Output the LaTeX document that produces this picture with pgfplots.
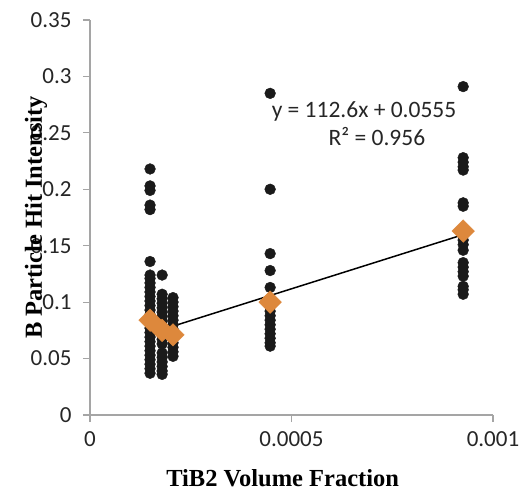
\documentclass[border=0pt]{standalone}
\usepackage{pgfplots}
\pgfplotsset{compat=1.18}
\usepackage{fontspec}
\setmainfont{Carlito}
\newfontfamily\labelfont{Liberation Serif}
\definecolor{dotc}{RGB}{26,26,26}
\definecolor{meanc}{RGB}{221,136,60}
\definecolor{axc}{RGB}{165,165,165}
\definecolor{txtc}{RGB}{38,38,38}
\begin{document}
\begin{tikzpicture}
\begin{axis}[
  at={(0,0)}, anchor=south west,
  scale only axis, width=403bp, height=395bp,
  xmin=0, xmax=0.001, ymin=0, ymax=0.35,
  axis x line*=bottom, axis y line*=left,
  axis line style={axc, line width=1.2bp},
  tick align=outside, major tick length=7bp,
  tick style={axc, line width=1.2bp},
  scaled x ticks=false, scaled y ticks=false,
  xtick={0,0.0005,0.001}, xticklabels={0,0.0005,0.001},
  ytick={0,0.05,0.1,0.15,0.2,0.25,0.3,0.35},
  yticklabels={0,0.05,0.1,0.15,0.2,0.25,0.3,0.35},
  /pgf/number format/assume math mode=true,
  tick label style={font=\fontsize{23bp}{27bp}\selectfont, text=txtc},
  yticklabel style={xshift=-8bp},
  xticklabel style={yshift=-6bp},
  xlabel={TiB2 Volume Fraction},
  ylabel={B Particle Hit Intensity},
  xlabel style={font=\labelfont\bfseries\fontsize{24.5bp}{28bp}\selectfont, at={(axis description cs:0.478,-0.16)}, anchor=center},
  ylabel style={font=\labelfont\bfseries\fontsize{24.5bp}{28bp}\selectfont, at={(axis description cs:-0.134,0.5)}, anchor=center},
  clip=false,
]
% individual measurements
\addplot[only marks, mark=*, mark size=5.4bp, draw=dotc, fill=dotc] coordinates {
(0.000149,0.218) (0.000149,0.203) (0.000149,0.199) (0.000149,0.186) (0.000149,0.182)
(0.000149,0.136) (0.000149,0.124) (0.000149,0.121) (0.000149,0.117) (0.000149,0.113)
(0.000149,0.109) (0.000149,0.105) (0.000149,0.101) (0.000149,0.097) (0.000149,0.093)
(0.000149,0.089) (0.000149,0.085) (0.000149,0.081) (0.000149,0.077) (0.000149,0.073)
(0.000149,0.069) (0.000149,0.065) (0.000149,0.061) (0.000149,0.057) (0.000149,0.053)
(0.000149,0.049) (0.000149,0.045) (0.000149,0.041) (0.000149,0.037)
(0.000179,0.124) (0.000179,0.107) (0.000179,0.103) (0.000179,0.099) (0.000179,0.095)
(0.000179,0.091) (0.000179,0.087) (0.000179,0.083) (0.000179,0.079) (0.000179,0.075)
(0.000179,0.071) (0.000179,0.067) (0.000179,0.063) (0.000179,0.055) (0.000179,0.051)
(0.000179,0.047) (0.000179,0.043) (0.000179,0.039) (0.000179,0.036)
(0.000206,0.104) (0.000206,0.100) (0.000206,0.096) (0.000206,0.092) (0.000206,0.088)
(0.000206,0.084) (0.000206,0.080) (0.000206,0.076) (0.000206,0.072) (0.000206,0.068)
(0.000206,0.064) (0.000206,0.060) (0.000206,0.056) (0.000206,0.052)
(0.000447,0.285) (0.000447,0.200) (0.000447,0.143) (0.000447,0.128) (0.000447,0.113)
(0.000447,0.100) (0.000447,0.096) (0.000447,0.092) (0.000447,0.088) (0.000447,0.084)
(0.000447,0.080) (0.000447,0.076) (0.000447,0.072) (0.000447,0.068) (0.000447,0.064)
(0.000447,0.061)
(0.000926,0.291) (0.000926,0.228) (0.000926,0.224) (0.000926,0.220) (0.000926,0.217)
(0.000926,0.188) (0.000926,0.185) (0.000926,0.163) (0.000926,0.159) (0.000926,0.155)
(0.000926,0.151) (0.000926,0.146) (0.000926,0.135) (0.000926,0.131) (0.000926,0.127)
(0.000926,0.123) (0.000926,0.114) (0.000926,0.111) (0.000926,0.107)
};
% means
\addplot[only marks, mark=square*, mark size=8bp, mark options={rotate=45, draw=meanc, fill=meanc}] coordinates {
(0.000149,0.084) (0.000179,0.075) (0.000206,0.071) (0.000447,0.100) (0.000926,0.163)
};
% linear trend line y = 112.6x + 0.0555
\addplot[black, line width=1.5bp] coordinates {(0.000149,0.0723) (0.000926,0.1598)};
\node[anchor=base, font=\fontsize{23.5bp}{27bp}\selectfont, text=txtc] at (axis cs:0.00068,0.264) {y = 112.6x + 0.0555};
\node[anchor=base, font=\fontsize{23.5bp}{27bp}\selectfont, text=txtc] at (axis cs:0.000712,0.239) {R² = 0.956};
\end{axis}
\pgfresetboundingbox
\path (-90bp,-79bp) rectangle (429bp,415bp);
\end{tikzpicture}
\end{document}
